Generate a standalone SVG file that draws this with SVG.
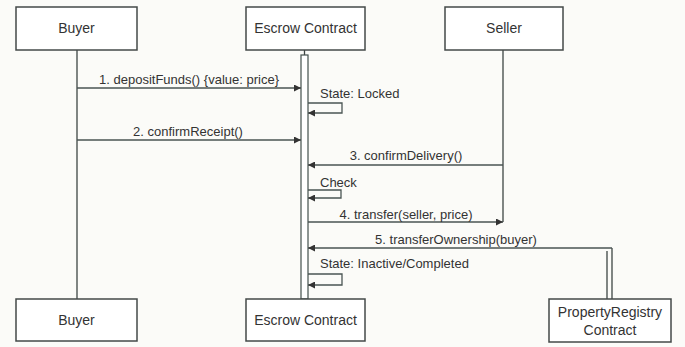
<svg xmlns="http://www.w3.org/2000/svg" width="685" height="347" viewBox="0 0 685 347">
  <style>
    .box { fill: #ffffff; stroke: #444a48; stroke-width: 1.5; }
    .lt { font-family: "Liberation Sans", Arial, sans-serif; font-size: 14px; fill: #333; text-anchor: middle; }
    .ml { font-family: "Liberation Sans", Arial, sans-serif; font-size: 13px; fill: #333; }
    .mc { text-anchor: middle; }
    .life { stroke: #3d4543; stroke-width: 1.3; fill: none; }
    .msg { stroke: #4a5553; stroke-width: 1.3; fill: none; marker-end: url(#ah); }
    .bar { fill: #ffffff; stroke: #44504e; stroke-width: 1.2; }
  </style>
  <defs>
    <marker id="ah" viewBox="0 0 10 10" refX="10" refY="5" markerWidth="7" markerHeight="7" markerUnits="userSpaceOnUse" orient="auto">
      <path d="M0,0 L10,5 L0,10 z" fill="#333"/>
    </marker>
  </defs>
  <rect width="685" height="347" fill="#fbfbf8"/>

  <g id="lifelines">
    <line class="life" x1="77" y1="50" x2="77" y2="299"/>
    <line class="life" x1="304.5" y1="50" x2="304.5" y2="55"/>
    <line class="life" x1="503" y1="50" x2="503" y2="222"/>
    <line class="life" x1="607" y1="251" x2="607" y2="299"/>
    <line class="life" x1="612" y1="248" x2="612" y2="299"/>
  </g>

  <g id="activation">
    <rect class="bar" x="301" y="55" width="7" height="244"/>
  </g>

  <g id="buyer-top">
    <rect class="box" x="16" y="7" width="121" height="43"/>
    <text class="lt" x="76.5" y="33">Buyer</text>
  </g>
  <g id="escrow-top">
    <rect class="box" x="246" y="7" width="119" height="43"/>
    <text class="lt" x="305.5" y="33">Escrow Contract</text>
  </g>
  <g id="seller-top">
    <rect class="box" x="445" y="7" width="118" height="43"/>
    <text class="lt" x="504" y="33">Seller</text>
  </g>
  <g id="buyer-bottom">
    <rect class="box" x="16" y="299" width="121" height="42"/>
    <text class="lt" x="76.5" y="325">Buyer</text>
  </g>
  <g id="escrow-bottom">
    <rect class="box" x="246" y="299" width="119" height="42"/>
    <text class="lt" x="305.5" y="325">Escrow Contract</text>
  </g>
  <g id="registry-bottom">
    <rect class="box" x="549" y="299" width="122" height="43"/>
    <text class="lt" x="610" y="317">PropertyRegistry</text>
    <text class="lt" x="610" y="335">Contract</text>
  </g>

  <g id="connectors">
    <line class="msg" x1="77" y1="88" x2="301" y2="88"/>
    <text class="ml mc" x="189" y="84">1. depositFunds() {value: price}</text>

    <path class="msg" d="M308,103 H342 V113 H308"/>
    <text class="ml" x="320" y="98">State: Locked</text>

    <line class="msg" x1="77" y1="140" x2="301" y2="140"/>
    <text class="ml mc" x="188" y="136">2. confirmReceipt()</text>

    <line class="msg" x1="503" y1="165" x2="308" y2="165"/>
    <text class="ml mc" x="406" y="160">3. confirmDelivery()</text>

    <path class="msg" d="M308,190 H341 V198 H308"/>
    <text class="ml" x="320" y="187">Check</text>

    <line class="msg" x1="308" y1="222" x2="503" y2="222"/>
    <text class="ml mc" x="406" y="219">4. transfer(seller, price)</text>

    <line class="msg" x1="612" y1="248" x2="308" y2="248"/>
    <text class="ml mc" x="456" y="244">5. transferOwnership(buyer)</text>

    <path class="msg" d="M308,274 H342 V285 H308"/>
    <text class="ml" x="320" y="268">State: Inactive/Completed</text>
  </g>
</svg>
